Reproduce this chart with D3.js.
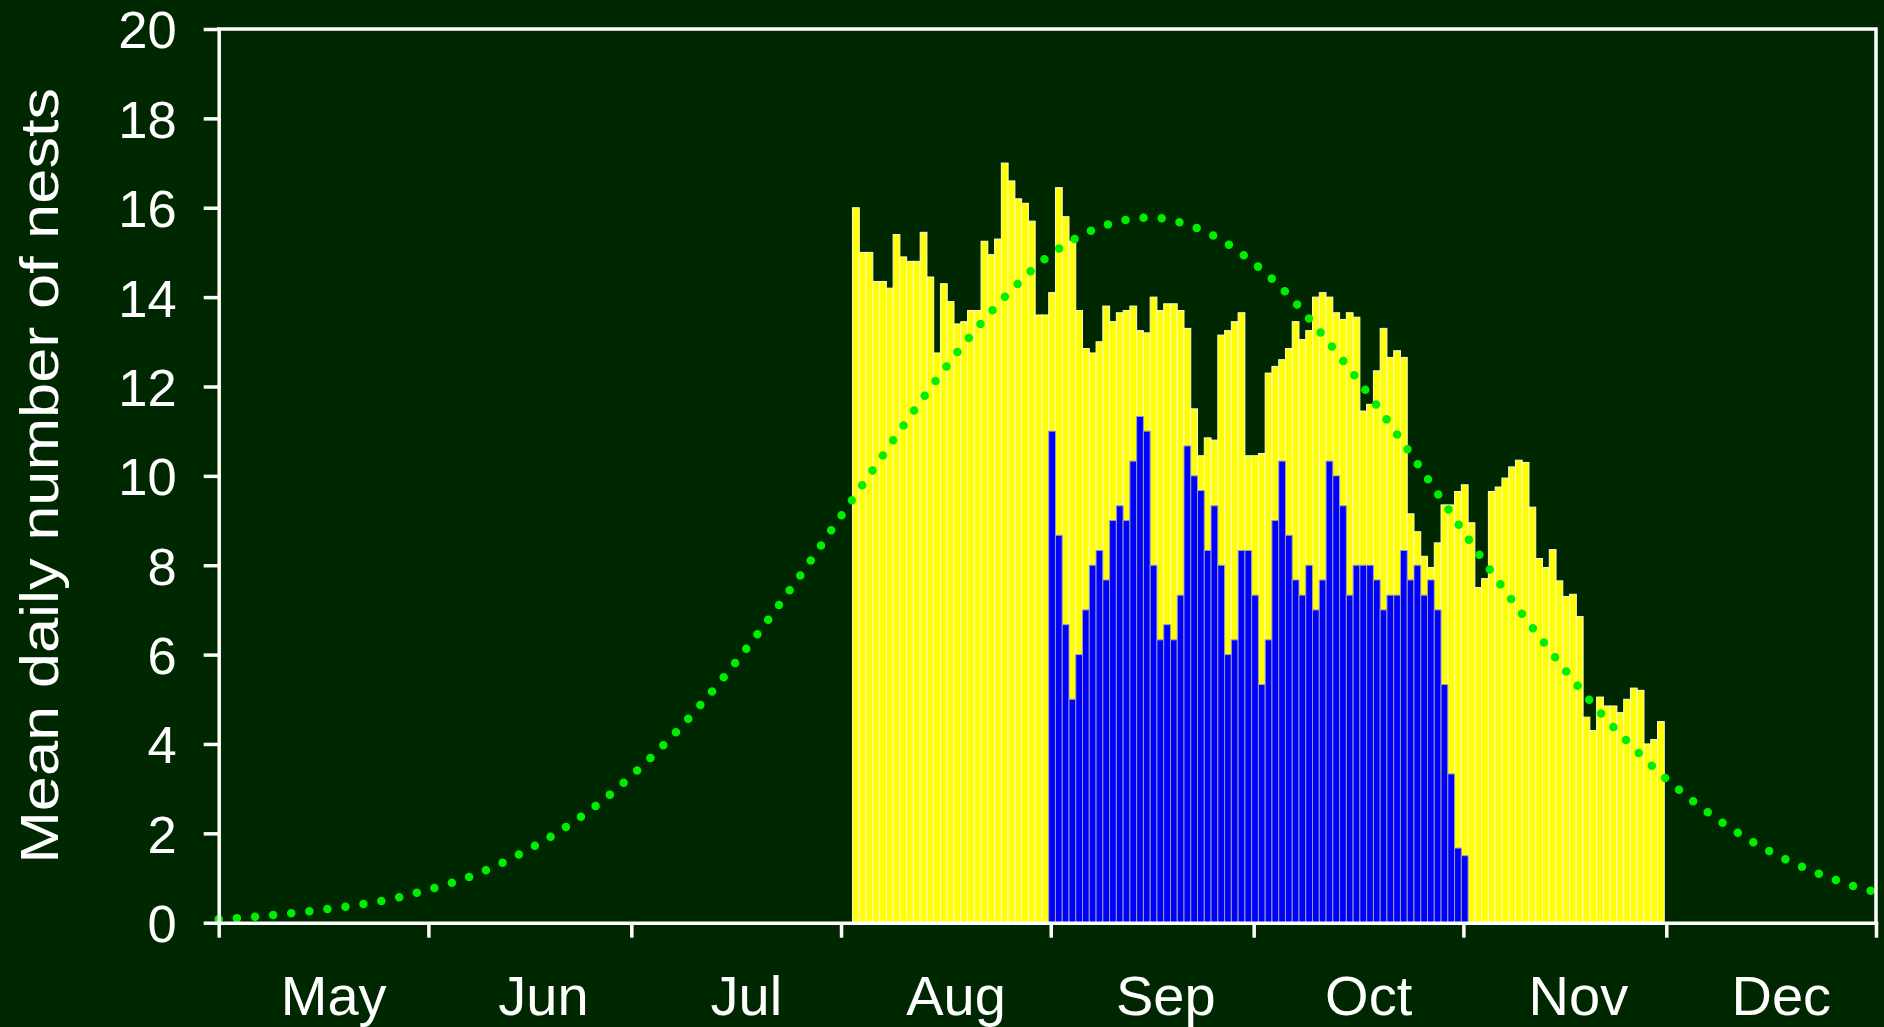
<!DOCTYPE html>
<html>
<head>
<meta charset="utf-8">
<script src="https://cdn.jsdelivr.net/npm/d3@7"></script>
<style>
  html, body { margin: 0; padding: 0; background: #002a00; }
  svg { display: block; }
</style>
</head>
<body>
<script>
// ---------------- DATA ----------------
const monthLabels = ["May", "Jun", "Jul", "Aug", "Sep", "Oct", "Nov", "Dec"];
const yTickValues = [0, 2, 4, 6, 8, 10, 12, 14, 16, 18, 20];
const yTitle = "Mean daily number of nests";

// yellow series: one value per day starting 3 Aug (through 30 Nov)
const yellowStart = "2000-08-03";
const yellowValues = [
  16.0, 15.0, 15.0, 14.35, 14.35, 14.2, 15.4, 14.9, 14.8, 14.8,
  15.45, 14.45, 12.75, 14.3, 13.9, 13.4, 13.45, 13.7, 13.7, 15.25,
  14.95, 15.3, 17.0, 16.6, 16.2, 16.1, 15.7, 13.6, 13.6, 14.1,
  16.45, 15.8, 15.25, 13.7, 12.85, 12.75, 13.0, 13.8, 13.45, 13.65,
  13.7, 13.8, 13.25, 13.2, 14.0, 13.7, 13.85, 13.85, 13.7, 13.3,
  11.5, 10.45, 10.85, 10.8, 13.15, 13.25, 13.45, 13.65, 10.45, 10.45,
  10.5, 12.3, 12.45, 12.6, 12.85, 13.45, 13.05, 13.25, 14.0, 14.1,
  14.0, 13.65, 13.5, 13.65, 13.55, 11.45, 11.6, 12.35, 13.3, 12.65,
  12.8, 12.65, 9.15, 8.75, 8.2, 7.95, 8.5, 9.35, 9.35, 9.65,
  9.8, 8.95, 7.5, 7.7, 9.65, 9.75, 9.95, 10.2, 10.35, 10.3,
  9.3, 8.15, 7.95, 8.35, 7.65, 7.3, 7.35, 6.85, 4.6, 4.3,
  5.05, 4.85, 4.85, 4.7, 5.0, 5.25, 5.2, 4.0, 4.1, 4.5
];

// blue series: one value per day starting 1 Sep (through 1 Nov)
const blueStart = "2000-09-01";
const blueValues = [
  11.0, 8.67, 6.67, 5.0, 6.0, 7.0, 8.0, 8.33, 7.67, 9.0,
  9.33, 9.0, 10.33, 11.33, 11.0, 8.0, 6.33, 6.67, 6.33, 7.33,
  10.67, 10.0, 9.67, 8.33, 9.33, 8.0, 6.0, 6.33, 8.33, 8.33,
  7.33, 5.33, 6.33, 9.0, 10.33, 8.67, 7.67, 7.33, 8.0, 7.0,
  7.67, 10.33, 10.0, 9.33, 7.33, 8.0, 8.0, 8.0, 7.67, 7.0,
  7.33, 7.33, 8.33, 7.67, 8.0, 7.33, 7.67, 7.0, 5.33, 3.33,
  1.67, 1.5
];

// green dotted curve: days after 1 May and value
const curveDays = [
  0, 5.3, 10.5, 15.8, 21.0, 26.1, 31.2, 36.4, 41.5, 46.5,
  51.6, 56.8, 61.6, 66.5, 71.2, 75.5, 79.5, 83.3, 87.0, 90.5,
  94.0, 97.6, 101.1, 104.8, 108.7, 112.9, 117.6, 122.5, 127.5, 132.7,
  137.8, 143.0, 148.1, 153.1, 158.0, 162.5, 166.6, 170.5, 174.1, 177.7,
  181.2, 184.7, 188.3, 192.0, 195.9, 199.9, 204.2, 209.0, 213.9, 218.9,
  223.9, 229.0, 234.1, 239.2, 244.3, 245.0
];
const curveValues = [
  0.08, 0.13, 0.21, 0.30, 0.41, 0.55, 0.75, 0.99, 1.31, 1.70,
  2.17, 2.74, 3.37, 4.09, 4.87, 5.65, 6.43, 7.21, 7.99, 8.77,
  9.54, 10.33, 11.10, 11.88, 12.67, 13.45, 14.22, 14.90, 15.38, 15.68,
  15.78, 15.63, 15.29, 14.75, 14.07, 13.28, 12.50, 11.72, 10.95, 10.16,
  9.38, 8.60, 7.82, 7.05, 6.27, 5.49, 4.71, 3.94, 3.23, 2.61,
  2.08, 1.62, 1.25, 0.95, 0.71, 0.69
];

// ---------------- CHART ----------------
const W = 1884, H = 1027;
const BG = "#002800";
const FONT = "'Liberation Sans', Arial, Helvetica, sans-serif";
const DAY = 86400000;
const seasonStart = Date.UTC(2000, 4, 1);
const seasonEnd = Date.UTC(2001, 0, 1);

const svg = d3.select("body").append("svg")
  .attr("width", W).attr("height", H);
svg.append("rect").attr("width", W).attr("height", H).attr("fill", BG);

const x = d3.scaleUtc().domain([seasonStart, seasonEnd]).range([218.7, 1876]);
const y = d3.scaleLinear().domain([0, 20]).range([922.7, 29]);
const dayW = x(seasonStart + DAY) - x(seasonStart);
const barShift = -0.3 * DAY;

function series(start, values) {
  const t0 = Date.parse(start + "T00:00:00Z");
  return values.map((v, i) => ({ t: t0 + i * DAY, v }));
}

function drawBars(data, fill, stroke) {
  svg.append("g").selectAll("rect").data(data).join("rect")
    .attr("x", d => x(d.t + barShift))
    .attr("width", dayW)
    .attr("y", d => y(d.v))
    .attr("height", d => y(0) - y(d.v))
    .attr("fill", fill)
    .attr("stroke", stroke)
    .attr("stroke-width", 1);
}
drawBars(series(yellowStart, yellowValues), "#ffff00", "#fbfbd2");
drawBars(series(blueStart, blueValues), "#0000ff", "#9c9cb8");

// dotted green curve
const curvePts = curveDays.map((d, i) => [x(seasonStart + d * DAY), y(curveValues[i])]);
svg.append("path")
  .attr("d", d3.line().curve(d3.curveMonotoneX)(curvePts))
  .attr("fill", "none")
  .attr("stroke", "#00ee00")
  .attr("stroke-width", 8.5)
  .attr("stroke-linecap", "round")
  .attr("stroke-dasharray", "0 18.2");

// axes
const axisStroke = 3.5;
const yAxis = svg.append("g")
  .attr("transform", `translate(${x(seasonStart)},0)`)
  .call(d3.axisLeft(y).tickValues(yTickValues).tickSize(15).tickSizeOuter(0).tickPadding(27));
yAxis.selectAll("text")
  .attr("dy", "0.36em")
  .attr("fill", "#ffffff").attr("font-size", 52.5).attr("font-family", FONT);

const monthStarts = d3.utcMonth.range(seasonStart, seasonEnd + 1);
const xAxis = svg.append("g")
  .attr("transform", `translate(0,${y(0)})`)
  .call(d3.axisBottom(x).tickValues(monthStarts).tickSize(15).tickSizeOuter(0).tickFormat(""));

[yAxis, xAxis].forEach(g => {
  g.selectAll("line").attr("stroke", "#ffffff").attr("stroke-width", axisStroke);
  g.select(".domain").attr("stroke", "#ffffff").attr("stroke-width", axisStroke)
    .attr("stroke-linecap", "square");
});

// top and right frame
svg.append("path")
  .attr("d", `M${x(seasonStart)},${y(20)}H${x(seasonEnd)}V${y(0)}`)
  .attr("fill", "none").attr("stroke", "#ffffff")
  .attr("stroke-width", axisStroke).attr("stroke-linecap", "square");

// month labels
svg.append("g").selectAll("text")
  .data(monthLabels.map((m, i) => ({ m, t: d3.utcDay.offset(monthStarts[i], 17) })))
  .join("text")
  .attr("x", d => x(d.t))
  .attr("y", 1015)
  .attr("text-anchor", "middle")
  .attr("fill", "#ffffff")
  .attr("font-size", 56)
  .attr("font-family", FONT)
  .text(d => d.m);

// y title
svg.append("text")
  .attr("transform", `translate(57.5,${(y(0) + y(20)) / 2}) rotate(-90) scale(1.17,1)`)
  .attr("text-anchor", "middle")
  .attr("fill", "#ffffff")
  .attr("font-size", 54)
  .attr("font-family", FONT)
  .text(yTitle);
</script>
</body>
</html>
